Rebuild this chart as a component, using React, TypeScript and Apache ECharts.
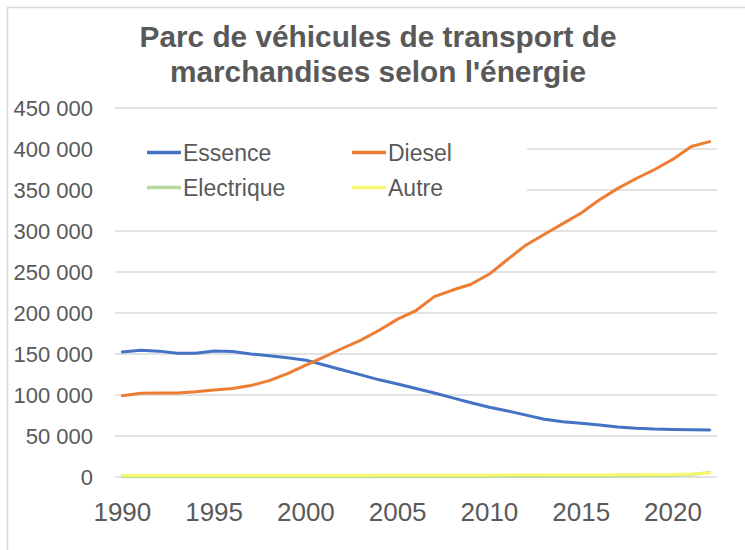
import React, { useEffect, useRef } from "react";
import * as echarts from "echarts";

const years = [1990,1991,1992,1993,1994,1995,1996,1997,1998,1999,2000,2001,2002,2003,2004,2005,2006,2007,2008,2009,2010,2011,2012,2013,2014,2015,2016,2017,2018,2019,2020,2021,2022];
const essence = [152500,154500,153500,151000,151000,153600,153000,150000,148000,145500,142500,136500,130500,124500,118500,113500,108000,102500,96500,90500,85000,80500,75500,70500,67500,65500,63500,61000,59500,58500,58000,57500,57300];
const diesel = [99000,102000,102500,102500,104000,106000,108000,111500,117500,126000,136500,146500,157000,167000,179000,192500,203000,220000,228000,235000,247500,265500,283000,296000,309000,322000,338000,352000,364000,375000,387500,403000,409000];
const electrique = [300,300,300,300,300,300,300,300,300,300,300,300,300,300,300,300,300,400,400,400,500,500,600,700,800,900,1000,1100,1200,1400,1800,3000,5500];
const autre = [1800,1800,1800,1800,1800,1800,1800,1800,1800,1800,1900,1900,1900,1900,2000,2000,2000,2100,2100,2200,2200,2300,2300,2400,2400,2500,2500,2600,2600,2700,2900,3600,5000];
const xTicks = [1990,1995,2000,2005,2010,2015,2020];
const titleLines = ["Parc de véhicules de transport de", "marchandises selon l'énergie"];

const FONT = "'Liberation Sans', Arial, sans-serif";
const TXT = "#595959";

function pairs(vals: number[]) {
  return years.map((y, i) => [y, vals[i]]);
}

export default function App() {
  const ref = useRef<HTMLDivElement>(null);
  useEffect(() => {
    if (!ref.current) return;
    const chart = echarts.init(ref.current, undefined, { renderer: "svg" });
    const mk = (name: string, vals: number[], color: string, z: number) => ({
      name,
      type: "line",
      data: pairs(vals),
      showSymbol: false,
      symbol: "none",
      z,
      lineStyle: { color, width: 3, cap: "round", join: "round" },
      itemStyle: { color },
    });
    const legendBase = {
      orient: "vertical",
      top: 141,
      icon: "rect",
      itemWidth: 34,
      itemHeight: 3.5,
      itemGap: 12,
      padding: 0,
      textStyle: { color: TXT, fontSize: 23, fontFamily: FONT, padding: [0, 0, 0, -3], lineHeight: 22 },
    };
    chart.setOption({
      animation: false,
      backgroundColor: "#fff",
      textStyle: { fontFamily: FONT },
      grid: { left: 115, right: 28, top: 108, bottom: 73 },
      xAxis: {
        type: "value",
        min: 1989.6,
        max: 2022.4,
        axisLine: { show: false },
        axisTick: { show: false },
        splitLine: { show: false },
        axisLabel: {
          customValues: xTicks,
          color: TXT,
          fontSize: 26,
          fontFamily: FONT,
          margin: 22,
          formatter: (v: number) => String(v),
        },
      },
      yAxis: {
        type: "value",
        min: 0,
        max: 450000,
        interval: 50000,
        axisLine: { show: false },
        axisTick: { show: false },
        splitLine: { lineStyle: { color: "#D9D9D9", width: 1.5 } },
        axisLabel: {
          color: TXT,
          fontSize: 22,
          fontFamily: FONT,
          margin: 22,
          formatter: (v: number) => String(v).replace(/\B(?=(\d{3})+(?!\d))/g, " "),
        },
      },
      legend: [
        { ...legendBase, data: ["Essence", "Electrique"], left: 147 },
        { ...legendBase, data: ["Diesel", "Autre"], left: 352 },
      ],
      graphic: [
        {
          type: "rect",
          z: 1,
          silent: true,
          shape: { x: 112, y: 134, width: 415, height: 70 },
          style: { fill: "#fff", stroke: "none" },
        },
        {
          type: "rect",
          z: 10,
          silent: true,
          shape: { x: 7.5, y: 7.5, width: 760, height: 560 },
          style: { fill: "none", stroke: "#D9D9D9", lineWidth: 1.5 },
        },
        {
          type: "text",
          z: 10,
          x: 378,
          y: 19,
          style: {
            text: titleLines.join("\n"),
            fontSize: 29.8,
            fontWeight: "bold",
            fontFamily: FONT,
            fill: TXT,
            align: "center",
            verticalAlign: "top",
            lineHeight: 35,
          },
        },
      ],
      series: [
        mk("Essence", essence, "#4472C4", 3),
        mk("Diesel", diesel, "#ED7D31", 3),
        mk("Electrique", electrique, "#B5D99C", 2),
        mk("Autre", autre, "#F8F870", 2.5),
      ],
    });
    return () => chart.dispose();
  }, []);
  return (
    <div
      ref={ref}
      style={{ position: "fixed", left: 0, top: 0, width: 745, height: 550, background: "#fff" }}
    />
  );
}
